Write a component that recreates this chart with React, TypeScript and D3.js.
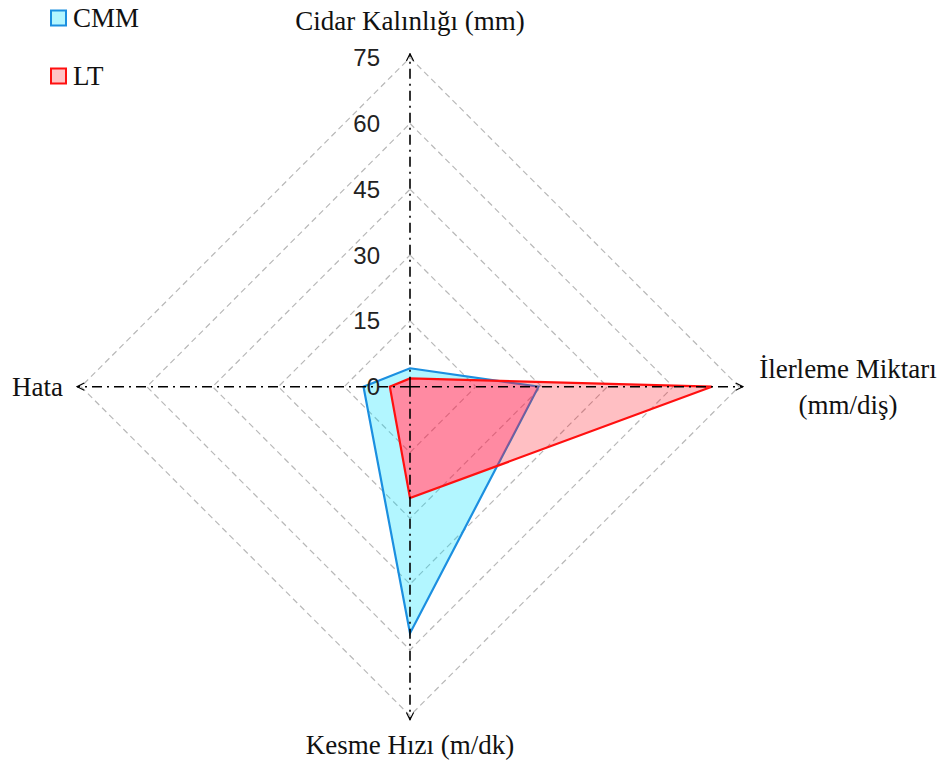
import React from "react";
import * as d3 from "d3";

// Radar axes (clockwise from top) and the two measured series
const axisLabels: string[][] = [
  ["Cidar Kalınlığı (mm)"],
  ["İlerleme Miktarı", "(mm/diş)"],
  ["Kesme Hızı (m/dk)"],
  ["Hata"],
];
const seriesNames = ["CMM", "LT"];
const cmmValues = [4.2, 29.3, 56.2, 10.6];
const ltValues = [1.9, 68.8, 25.4, 4.6];
const tickValues = [0, 15, 30, 45, 60, 75];

const W = 944;
const H = 765;
const cx = 410;
const cy = 386.7;
const maxValue = 75;

const r = d3.scaleLinear().domain([0, maxValue]).range([0, 329]);
const angleOf = (i: number) => (i * 2 * Math.PI) / axisLabels.length;

const pt = (i: number, v: number): [number, number] => {
  const a = angleOf(i);
  return [cx + r(v) * Math.sin(a), cy - r(v) * Math.cos(a)];
};

const closed = d3.line<[number, number]>().curve(d3.curveLinearClosed);
const polyPath = (vals: number[]) => closed(vals.map((v, i) => pt(i, v))) as string;

const serif = "'Liberation Serif', 'Times New Roman', serif";
const sans = "'Liberation Sans', Arial, sans-serif";
const titleSize = 27;

export default function App() {
  const cmmPath = polyPath(cmmValues);
  const ltPath = polyPath(ltValues);
  const rings = tickValues.filter((t) => t > 0);

  return (
    <svg
      width={W}
      height={H}
      style={{ position: "absolute", left: 0, top: 0, background: "#fff" }}
    >
      <defs>
        <marker
          id="arrow"
          viewBox="0 0 10 10"
          refX="9"
          refY="5"
          markerWidth="9"
          markerHeight="9"
          markerUnits="userSpaceOnUse"
          orient="auto"
        >
          <path d="M1,1 L9,5 L1,9" fill="none" stroke="#000" strokeWidth={1.3} />
        </marker>
        <mask id="outsideLT">
          <rect x={0} y={0} width={W} height={H} fill="#fff" />
          <path d={ltPath} fill="#000" />
        </mask>
        <clipPath id="insideCMM">
          <path d={cmmPath} />
        </clipPath>
      </defs>

      {/* grid rings */}
      {rings.map((t) => (
        <path
          key={t}
          d={closed(axisLabels.map((_, i) => pt(i, t))) as string}
          fill="none"
          stroke="#b8b8b8"
          strokeWidth={1.2}
          strokeDasharray="6 4"
        />
      ))}

      {/* CMM */}
      <path d={cmmPath} fill="rgba(0,225,255,0.3)" mask="url(#outsideLT)" />
      <path d={cmmPath} fill="none" stroke="#1b8fe0" strokeWidth={2.2} strokeLinejoin="miter" />

      {/* LT */}
      <path d={ltPath} fill="rgba(255,0,15,0.25)" />
      <path d={ltPath} fill="rgba(255,40,100,0.35)" clipPath="url(#insideCMM)" />
      <path d={ltPath} fill="none" stroke="#ff1010" strokeWidth={2.2} strokeLinejoin="miter" />

      {/* axes */}
      {axisLabels.map((_, i) => {
        const [x2, y2] = pt(i, maxValue * 1.012);
        return (
          <line
            key={i}
            x1={cx}
            y1={cy}
            x2={x2}
            y2={y2}
            stroke="#000"
            strokeWidth={1.6}
            strokeDasharray="10 5 2 5"
            markerEnd="url(#arrow)"
          />
        );
      })}

      {/* tick labels */}
      {tickValues.map((t) => (
        <text
          key={t}
          x={cx - 30}
          y={cy - r(t)}
          textAnchor="end"
          dominantBaseline="central"
          fontFamily={sans}
          fontSize={24}
          fill="#222"
        >
          {t}
        </text>
      ))}

      {/* axis titles */}
      <text x={cx} y={21} textAnchor="middle" dominantBaseline="central" fontFamily={serif} fontSize={titleSize} fill="#111">
        {axisLabels[0][0]}
      </text>
      <text x={848} y={369} textAnchor="middle" dominantBaseline="central" fontFamily={serif} fontSize={titleSize} fill="#111">
        {axisLabels[1][0]}
      </text>
      <text x={848} y={405} textAnchor="middle" dominantBaseline="central" fontFamily={serif} fontSize={titleSize} fill="#111">
        {axisLabels[1][1]}
      </text>
      <text x={cx} y={745} textAnchor="middle" dominantBaseline="central" fontFamily={serif} fontSize={titleSize} fill="#111">
        {axisLabels[2][0]}
      </text>
      <text x={63} y={387} textAnchor="end" dominantBaseline="central" fontFamily={serif} fontSize={titleSize} fill="#111">
        {axisLabels[3][0]}
      </text>

      {/* legend */}
      {seriesNames.map((name, i) => {
        const y = 18 + i * 58;
        const isCmm = i === 0;
        return (
          <g key={name}>
            <rect
              x={51}
              y={y - 7.5}
              width={15}
              height={15}
              fill={isCmm ? "#b3f6ff" : "#ffc4c6"}
              stroke={isCmm ? "#1b8fe0" : "#ff1010"}
              strokeWidth={2}
            />
            <text x={73} y={y} dominantBaseline="central" fontFamily={serif} fontSize={titleSize} fill="#111">
              {name}
            </text>
          </g>
        );
      })}
    </svg>
  );
}
